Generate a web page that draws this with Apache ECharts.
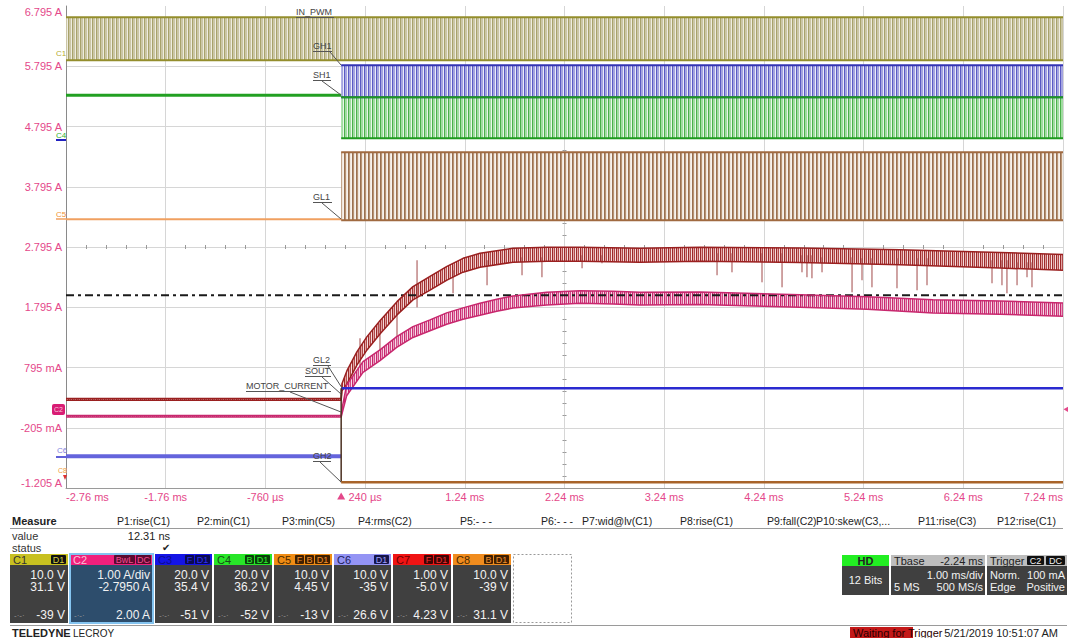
<!DOCTYPE html>
<html>
<head>
<meta charset="utf-8">
<title>Motor start-up capture</title>
<script src="https://cdn.jsdelivr.net/npm/echarts@6.0.0/dist/echarts.min.js"></script>
<style>
  html, body { margin: 0; padding: 0; background: #fff; }
  #scope { width: 1068px; height: 638px; }
</style>
</head>
<body>
<div id="scope"></div>
<script>
// screen is 1 ms/div, 1 A/div (C2 scale); time in µs, level in mA
var xTicks = [-2760, -1760, -760, 240, 1240, 2240, 3240, 4240, 5240, 6240, 7240];
var xTickLabels = ['-2.76 ms', '-1.76 ms', '-760 µs', '240 µs', '1.24 ms', '2.24 ms', '3.24 ms', '4.24 ms', '5.24 ms', '6.24 ms', '7.24 ms'];
var yTicks = [-1205, -205, 795, 1795, 2795, 3795, 4795, 5795, 6795];
var yTickLabels = ['-1.205 A', '-205 mA', '795 mA', '1.795 A', '2.795 A', '3.795 A', '4.795 A', '5.795 A', '6.795 A'];

var tStart = -2760, tTrig = 0, tEnd = 7240;

// switching channels: [high, low] of the PWM envelope
var inPwm = [6608, 5895];     // C1 IN_PWM, whole record
var gh1 = [5810, 5280];       // GH1 after trigger
var sh1 = [5280, 4600];       // SH1 after trigger
var sh1Idle = 5314;           // SH1 before trigger
var gl1 = [4367, 3239];       // GL1 after trigger
var gl1Idle = 3255;           // GL1 before trigger
var soutLevel = 450;          // blue trace after trigger
var gh2Idle = -679;           // GH2 before trigger
var gh2Low = -1111;           // bottom trace after trigger
var cursorLevel = 1995;       // dash-dot cursor
var triggerLevel = 100;       // C2 trigger, 100 mA

// C2 MOTOR_CURRENT (centre of ripple and half ripple)
var curTime = [-2760, 0, 8, 55, 219, 389, 557, 720, 891, 1058, 1222, 1392, 1560, 1723, 2061, 2395, 2726, 2997, 3599, 4602, 5274, 5936, 6608, 7240];
var curMid = [-15, -15, 68, 417, 803, 998, 1218, 1384, 1496, 1607, 1690, 1761, 1828, 1882, 1939, 1965, 1956, 1939, 1944, 1899, 1866, 1811, 1790, 1755];
var curRipple = [12, 12, 40, 90, 90, 90, 90, 90, 90, 95, 95, 100, 100, 100, 105, 105, 105, 105, 105, 105, 105, 110, 110, 110];

// C7 dark red trace
var redTime = [-2760, 0, 8, 58, 159, 259, 389, 560, 720, 891, 1061, 1222, 1392, 1723, 2064, 2395, 2997, 3599, 4602, 5605, 6608, 7240];
var redMid = [267, 267, 466, 632, 948, 1197, 1462, 1778, 2027, 2193, 2359, 2492, 2575, 2658, 2674, 2674, 2658, 2674, 2658, 2625, 2575, 2541];
var redRipple = [15, 15, 60, 110, 110, 110, 110, 110, 110, 115, 115, 115, 115, 115, 115, 115, 115, 115, 120, 125, 130, 130];

// glitches on the red trace
var spikeTime = [189, 389, 560, 761, 1122, 1463, 1814, 2014, 2416, 2616, 3770, 3920, 4221, 4422, 4622, 4672, 4722, 4823, 5124, 5224, 5324, 5575, 5776, 5876, 6528, 6628, 6678, 6779, 6879, 6929];
var spikeTop = [1280, 1529, 1745, 2575, 2409, 2575, 2624, 2624, 2658, 2658, 2691, 2691, 2691, 2691, 2658, 2658, 2658, 2624, 2624, 2608, 2608, 2608, 2608, 2608, 2575, 2575, 2575, 2541, 2541, 2541];
var spikeBottom = [798, 1081, 1247, 1794, 2027, 2160, 2326, 2293, 2442, 2525, 2326, 2375, 2209, 2126, 2375, 2293, 2276, 2375, 2043, 2243, 2126, 2110, 2077, 2160, 2193, 2160, 2027, 2160, 2293, 2126];

var FONT = '"Liberation Sans", Arial, sans-serif';
var PINK = '#e4488a';

var xLabelOf = {};
xTicks.forEach(function (v, i) { xLabelOf[v] = xTickLabels[i]; });
var yLabelOf = {};
yTicks.forEach(function (v, i) { yLabelOf[v] = yTickLabels[i]; });

function pattern(cols) {
  var c = document.createElement('canvas');
  c.width = cols.length;
  c.height = 2;
  var g = c.getContext('2d');
  cols.forEach(function (col, i) { g.fillStyle = col; g.fillRect(i, 0, 1, 2); });
  return { image: c, repeat: 'repeat' };
}

function flat(t0, t1, v) { return [[t0, v], [t1, v]]; }

function line(data, color, width, extra) {
  var s = { type: 'line', data: data, symbol: 'none', silent: true,
    lineStyle: { color: color, width: width || 2 } };
  for (var k in extra) s[k] = extra[k];
  return s;
}

// switching band between high and low level
function pwmBand(t0, t1, hilo, edge, cols) {
  return [
    line(flat(t0, t1, hilo[0]), edge, 2, { areaStyle: { origin: hilo[1], color: pattern(cols), opacity: 1 } }),
    line(flat(t0, t1, hilo[1]), edge, 2)
  ];
}

// rippled trace: filled band between lower and upper envelope
function ripple(times, mid, amp, color, cols) {
  var lower = times.map(function (t, i) { return [t, mid[i] - amp[i]]; });
  var upper = times.map(function (t, i) { return [t, mid[i] + amp[i]]; });
  var quads = [];
  for (var i = 0; i < times.length - 1; i++) {
    quads.push([times[i], lower[i][1], upper[i][1], times[i + 1], lower[i + 1][1], upper[i + 1][1]]);
  }
  var fill = pattern(cols);
  return [
    {
      type: 'custom', silent: true, data: quads,
      encode: { x: [0, 3], y: [1, 2, 4, 5] },
      renderItem: function (params, api) {
        var pts = [
          api.coord([api.value(0), api.value(1)]),
          api.coord([api.value(3), api.value(4)]),
          api.coord([api.value(3), api.value(5)]),
          api.coord([api.value(0), api.value(2)])
        ];
        return { type: 'polygon', shape: { points: pts }, style: { fill: fill } };
      }
    },
    line(lower, color, 1.5),
    line(upper, color, 1.5)
  ];
}

var series = [].concat(
  pwmBand(tStart, tEnd, inPwm, '#948e2c', ['#a8a26a', '#cbc6a6', '#cbc6a6', '#eeecdf']),
  pwmBand(tTrig, tEnd, gh1, '#3434b4', ['#5a5ac4', '#a4a4e0', '#a4a4e0', '#ececf8']),
  pwmBand(tTrig, tEnd, sh1, '#1e9a1e', ['#4ab04a', '#a0dca0', '#a0dca0', '#e8f6e8']),
  pwmBand(tTrig, tEnd, gl1, '#a06a40', ['#9a7050', '#b89474', '#efe6dd', '#f7f2ec']),
  [
    line(flat(tStart, tTrig, sh1Idle), '#22a022', 3),
    line(flat(tStart, tTrig, gl1Idle), '#f0a060', 2),
    line(flat(tStart, tEnd, cursorLevel), '#1a1a1a', 2, {
      lineStyle: { color: '#1a1a1a', width: 2, type: [8, 4, 3, 4] },
      markPoint: {
        silent: true,
        label: { show: false },
        data: [
          { coord: [tTrig, yTicks[0]], symbol: 'triangle', symbolSize: [8, 7], symbolOffset: [0, 8], itemStyle: { color: PINK } },
          { coord: [tEnd, triggerLevel], symbol: 'triangle', symbolSize: [6, 5], symbolRotate: 90, symbolOffset: [3, 0], itemStyle: { color: PINK } }
        ]
      }
    })
  ],
  ripple(redTime, redMid, redRipple, '#9a2020', ['#9a2a2a', '#e4a4a4', '#b04848', '#f4dcdc']),
  [{
    type: 'custom', silent: true,
    data: spikeTime.map(function (t, i) { return [t, spikeTop[i], spikeBottom[i]]; }),
    encode: { x: 0, y: [1, 2] },
    renderItem: function (params, api) {
      var a = api.coord([api.value(0), api.value(1)]);
      var b = api.coord([api.value(0), api.value(2)]);
      return { type: 'line', shape: { x1: a[0], y1: a[1], x2: b[0], y2: b[1] },
        style: { stroke: '#a04848', lineWidth: 1 } };
    }
  }],
  ripple(curTime, curMid, curRipple, '#c8286e', ['#c8286e', '#eaa0c0', '#d04a88', '#f6dce8']),
  [
    line(flat(tTrig, tEnd, soutLevel), '#2a2ad0', 2.5),
    line([[tStart, gh2Idle], [tTrig, gh2Idle]], '#6464dc', 4),
    line([[tTrig, soutLevel], [tTrig, gh2Low]], '#4a3020', 1.5),
    line(flat(tTrig, tEnd, gh2Low), '#a8642a', 2.5)
  ]
);

// ---------- overlay text and readout panel ----------
function label(x, y, s, o) {
  o = o || {};
  var al = o.align || 'left';
  return { type: 'text', x: x, y: y, silent: true, z: 20,
    style: { text: s, fill: o.color || '#222',
      font: (o.bold ? 'bold ' : '') + (o.size || 11) + 'px ' + FONT,
      align: al, verticalAlign: 'middle', textAlign: al, textVerticalAlign: 'middle' } };
}
function rect(x, y, w, h, fill, o) {
  o = o || {};
  return { type: 'rect', silent: true, z: o.z || 15,
    shape: { x: x, y: y, width: w, height: h, r: o.r || 0 },
    style: { fill: fill, stroke: o.stroke || null, lineWidth: o.lw || 1, lineDash: o.dash || null } };
}
function seg(x1, y1, x2, y2, color, w) {
  return { type: 'line', silent: true, z: 20, shape: { x1: x1, y1: y1, x2: x2, y2: y2 },
    style: { stroke: color, lineWidth: w || 1 } };
}

var g = [];
// trace names with underline and leader
function tag(s, x, y, w, lx, ly, tx, ty) {
  g.push(label(x, y, s, { color: '#444', size: 9 }));
  g.push(seg(x, y + 5.5, x + w, y + 5.5, '#555', 1));
  if (tx != null) g.push(seg(lx, ly, tx, ty, '#555', 1));
}
tag('IN_PWM', 296, 12, 38, null, null, null, null);
tag('GH1', 313, 46, 19, 330, 52, 341, 65);
tag('SH1', 313, 75, 18, 322, 81, 341, 95);
tag('GL1', 313, 197, 19, 322, 203, 341, 219);
tag('GL2', 313, 360, 18, 328, 366, 342, 388);
tag('SOUT', 305, 371, 26, 322, 377, 341, 394);
tag('MOTOR_CURRENT', 246, 386, 85, 290, 392, 341, 412);
tag('GH2', 313, 456, 18, 320, 462, 341, 482);

// channel markers on the left edge
g.push(label(56, 53, 'C1', { color: '#b4aa30', size: 8 }));
g.push(label(56, 135, 'C4', { color: '#30b030', size: 8 }));
g.push(seg(56, 140, 66, 140, '#2020c0', 2));
g.push(label(56, 214, 'C5', { color: '#f09030', size: 8 }));
g.push(seg(56, 219, 66, 219, '#f0a060', 1.5));
g.push(rect(52, 404, 13, 11, '#d81c74', { r: 2, z: 20 }));
g.push(label(54, 409.5, 'C2', { color: '#f8c8dc', size: 7 }));
g.push(label(57, 450, 'C6', { color: '#8080e0', size: 8 }));
g.push(seg(56, 457, 66, 457, '#6060d8', 2));
g.push(label(58, 470, 'C8', { color: '#f0a040', size: 7 }));
g.push({ type: 'polygon', silent: true, z: 20, shape: { points: [[63, 475], [67, 475], [65, 480]] }, style: { fill: '#e03030' } });

// measurement table
g.push(label(12, 521, 'Measure', { bold: true }));
[['P1:rise(C1)', 117], ['P2:min(C1)', 197], ['P3:min(C5)', 282], ['P4:rms(C2)', 358], ['P5:- - -', 460],
 ['P6:- - -', 541], ['P7:wid@lv(C1)', 582], ['P8:rise(C1)', 680], ['P9:fall(C2)', 767], ['P10:skew(C3,...', 816],
 ['P11:rise(C3)', 918], ['P12:rise(C1)', 997]].forEach(function (p) {
  g.push(label(p[1], 521, p[0], { size: 10.5 }));
});
g.push(seg(10, 528.5, 1063, 528.5, '#9a9a9a', 1));
g.push(label(12, 536, 'value', { color: '#333' }));
g.push(label(170, 536, '12.31 ns', { align: 'right' }));
g.push(label(12, 548, 'status', { color: '#333' }));
g.push(label(166, 547, '✔', { size: 10, align: 'center' }));

// channel descriptor boxes
var channels = [
  { name: 'C1', x: 10, w: 58, head: '#c8c020', nameColor: '#333', tags: ['D1'], tagBg: '#111', tagColor: '#d8d040', lines: ['10.0 V', '31.1 V', '-39 V'] },
  { name: 'C2', x: 70, w: 83, head: '#f0207c', nameColor: '#f8c0d8', tags: ['BwL', 'DC'], tagBg: '#5a0a30', tagColor: '#f05090', lines: ['1.00 A/div', '-2.7950 A', '2.00 A'], body: '#2d4d6c', border: '#84c4f0' },
  { name: 'C3', x: 155, w: 57, head: '#1414e6', nameColor: '#0c0c90', tags: ['F', 'D1'], tagBg: '#0a0a50', tagColor: '#3030f0', lines: ['20.0 V', '35.4 V', '-51 V'] },
  { name: 'C4', x: 214, w: 58, head: '#28e628', nameColor: '#1a4a1a', tags: ['B', 'D1'], tagBg: '#0a400a', tagColor: '#30f030', lines: ['20.0 V', '36.2 V', '-52 V'] },
  { name: 'C5', x: 274, w: 58, head: '#f08c14', nameColor: '#4a2a00', tags: ['F', 'B', 'D1'], tagBg: '#402000', tagColor: '#f09030', lines: ['10.0 V', '4.45 V', '-13 V'] },
  { name: 'C6', x: 334, w: 57, head: '#9494f4', nameColor: '#20205a', tags: ['D1'], tagBg: '#15154a', tagColor: '#a0a0f8', lines: ['10.0 V', '-35 V', '26.6 V'] },
  { name: 'C7', x: 393, w: 58, head: '#f01414', nameColor: '#6a0000', tags: ['F', 'D1'], tagBg: '#400404', tagColor: '#f03030', lines: ['1.00 V', '-5.0 V', '4.23 V'] },
  { name: 'C8', x: 453, w: 58, head: '#f08c1e', nameColor: '#4a2a00', tags: ['B', 'D1'], tagBg: '#402000', tagColor: '#f09030', lines: ['10.0 V', '-39 V', '31.1 V'] }
];
channels.forEach(function (b) {
  g.push(rect(b.x, 554, b.w, 11, b.head));
  g.push(rect(b.x, 565, b.w, 58, b.body || '#404040'));
  g.push(label(b.x + 3, 560, b.name, { color: b.nameColor }));
  var rx = b.x + b.w - 1;
  for (var i = b.tags.length - 1; i >= 0; i--) {
    var tw = b.tags[i].length * 6 + 4;
    rx -= tw;
    g.push(rect(rx, 555, tw - 1, 9, b.tagBg, { r: 1, z: 16 }));
    g.push(label(rx + (tw - 1) / 2, 560, b.tags[i], { color: b.tagColor, size: 9, align: 'center' }));
  }
  g.push(label(b.x + b.w - 3, 575, b.lines[0], { color: '#f2f2f2', size: 12, align: 'right' }));
  g.push(label(b.x + b.w - 3, 587, b.lines[1], { color: '#f2f2f2', size: 12, align: 'right' }));
  g.push(label(b.x + 4, 615, '-·-·', { color: '#9a9a9a', size: 8 }));
  g.push(label(b.x + b.w - 3, 615, b.lines[2], { color: '#f2f2f2', size: 12, align: 'right' }));
  if (b.border) g.push(rect(b.x, 554, b.w, 69, 'none', { stroke: b.border, lw: 2, z: 17 }));
});
g.push(rect(513.5, 554.5, 58, 68, 'none', { stroke: '#999', dash: [2, 2] }));

// acquisition boxes
g.push(rect(842, 555, 47, 11, '#22ee22'));
g.push(rect(842, 566, 47, 29, '#404040'));
g.push(label(865.5, 560.5, 'HD', { bold: true, align: 'center' }));
g.push(label(865.5, 580, '12 Bits', { color: '#f2f2f2', size: 11, align: 'center' }));
g.push(rect(891, 555, 94, 11, '#bdbdbd'));
g.push(rect(891, 566, 94, 29, '#404040'));
g.push(label(894, 560.5, 'Tbase', { color: '#222' }));
g.push(label(983, 560.5, '-2.24 ms', { color: '#222', align: 'right' }));
g.push(label(983, 575, '1.00 ms/div', { color: '#f2f2f2', size: 11, align: 'right' }));
g.push(label(894, 587, '5 MS', { color: '#f2f2f2', size: 11 }));
g.push(label(983, 587, '500 MS/s', { color: '#f2f2f2', size: 11, align: 'right' }));
g.push(rect(987, 555, 80, 11, '#bdbdbd'));
g.push(rect(987, 566, 80, 29, '#404040'));
g.push(label(990, 560.5, 'Trigger', { color: '#222' }));
g.push(rect(1027, 556, 17, 9, '#111', { r: 1, z: 16 }));
g.push(label(1035.5, 560.5, 'C2', { color: '#f2f2f2', size: 9, align: 'center' }));
g.push(rect(1046, 556, 19, 9, '#111', { r: 1, z: 16 }));
g.push(label(1055.5, 560.5, 'DC', { color: '#f2f2f2', size: 9, align: 'center' }));
g.push(label(990, 575, 'Norm.', { color: '#f2f2f2', size: 11 }));
g.push(label(1065, 575, '100 mA', { color: '#f2f2f2', size: 11, align: 'right' }));
g.push(label(990, 587, 'Edge', { color: '#f2f2f2', size: 11 }));
g.push(label(1065, 587, 'Positive', { color: '#f2f2f2', size: 11, align: 'right' }));

// footer
g.push(seg(10, 625.5, 1067, 625.5, '#9a9a9a', 1));
g.push(label(12, 633, 'TELEDYNE', { bold: true, color: '#222' }));
g.push(label(73, 633, 'LECROY', { color: '#222', size: 10 }));
g.push(rect(850, 627, 63, 11, '#c41818'));
g.push(label(853, 633, 'Waiting for Trigger', { color: '#2a0000' }));
g.push(label(1058, 633, '5/21/2019 10:51:07 AM', { color: '#222', align: 'right' }));

// centre cross tick axes, pushed into the middle of the grid with a negative offset
var GRID = { left: 66, right: 5, top: 6, bottom: 150 };
var midOffX = -(638 - GRID.top - GRID.bottom) / 2;
var midOffY = -(1068 - GRID.left - GRID.right) / 2;
function tickAxis(dim, position, inside) {
  return {
    type: 'value', position: position,
    offset: dim === 'x' ? midOffX : midOffY,
    min: dim === 'x' ? tStart : yTicks[0], max: dim === 'x' ? tEnd : yTicks[yTicks.length - 1],
    interval: 1000,
    axisLine: { show: false, onZero: false },
    axisTick: { show: false, inside: inside },
    axisLabel: { show: false },
    splitLine: { show: false },
    minorTick: { show: true, splitNumber: 5, length: 2, lineStyle: { color: '#9a9a9a' } }
  };
}

var option = {
  animation: false,
  backgroundColor: '#fff',
  grid: GRID,
  xAxis: [
    {
      type: 'value', min: tStart, max: tEnd, interval: 1000, position: 'bottom',
      axisLine: { show: true, onZero: false, lineStyle: { color: '#9a9a9a' } },
      axisTick: { show: false },
      axisLabel: { color: PINK, fontSize: 11, fontFamily: FONT, margin: 3,
        alignMinLabel: 'left', alignMaxLabel: 'right',
        formatter: function (v) { return xLabelOf[Math.round(v)] || ''; } },
      splitLine: { show: true, lineStyle: { color: '#d6d6d6' } }
    },
    tickAxis('x', 'top', false),
    tickAxis('x', 'top', true)
  ],
  yAxis: [
    {
      type: 'value', min: yTicks[0], max: yTicks[yTicks.length - 1], interval: 1000, position: 'left',
      axisLine: { show: true, onZero: false, lineStyle: { color: '#8a8a8a' } },
      axisTick: { show: false },
      axisLabel: { color: PINK, fontSize: 11, fontFamily: FONT, margin: 4,
        verticalAlignMinLabel: 'bottom', verticalAlignMaxLabel: 'top',
        formatter: function (v) { return yLabelOf[Math.round(v)] || ''; } },
      splitLine: { show: true, showMaxLine: false, lineStyle: { color: '#d6d6d6' } }
    },
    tickAxis('y', 'right', false),
    tickAxis('y', 'right', true)
  ],
  series: series,
  graphic: { elements: g }
};

var chart = echarts.init(document.getElementById('scope'), null, { renderer: 'svg' });
chart.setOption(option);
</script>
</body>
</html>
